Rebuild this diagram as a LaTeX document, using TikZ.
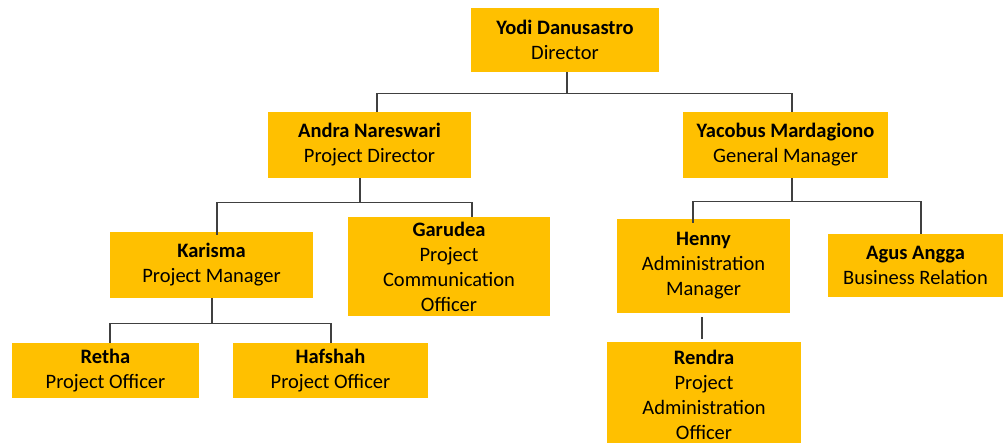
\documentclass[tikz,border=0pt]{standalone}
\usepackage{fontspec}
\setmainfont{Carlito}
\definecolor{boxgold}{HTML}{FFC000}
\definecolor{linegray}{HTML}{404040}
\begin{document}
\begin{tikzpicture}[x=1pt,y=-1pt,
  box/.style={fill=boxgold,draw=none,inner sep=0pt,align=center,text=black,
    font=\fontsize{20.5}{25}\selectfont},
  conn/.style={draw=linegray,line width=1.1pt}]
\useasboundingbox (0,0) rectangle (1003,443);
\node[box,minimum width=188pt,minimum height=64pt] (yodi) at (565,40) {\textbf{Yodi Danusastro}\\Director};
\node[box,minimum width=203pt,minimum height=66pt] (andra) at (369.5,145) {\textbf{Andra Nareswari}\\Project Director};
\node[box,minimum width=205pt,minimum height=66pt] (yacobus) at (785.5,145) {\textbf{Yacobus Mardagiono}\\General Manager};
\node[box,minimum width=203pt,minimum height=66pt] (karisma) at (211.5,265) {\textbf{Karisma}\\Project Manager};
\node[box,minimum width=202pt,minimum height=99pt] (garudea) at (449,266.5) {\textbf{Garudea}\\Project\\Communication\\Officer};
\node[box,minimum width=173pt,minimum height=94pt] (henny) at (703.5,266) {\textbf{Henny}\\Administration\\Manager};
\node[box,minimum width=175pt,minimum height=63pt] (agus) at (915.5,265.5) {\textbf{Agus Angga}\\Business Relation};
\node[box,minimum width=187pt,minimum height=55pt] (retha) at (105.5,370.5) {\textbf{Retha}\\Project Officer};
\node[box,minimum width=195pt,minimum height=55pt] (hafshah) at (330.5,370.5) {\textbf{Hafshah}\\Project Officer};
\node[box,minimum width=194pt,minimum height=105pt] (rendra) at (704,394.5) {\textbf{Rendra}\\Project\\Administration\\Officer};

% Director level
\draw[conn] ([xshift=2pt]yodi.south) -- ++(0,21) coordinate (j1);
\draw[conn] ([xshift=7.5pt]andra.north) |- (j1) -| ([xshift=6.5pt]yacobus.north);
% Project director
\draw[conn] ([xshift=-9.5pt]andra.south) -- ++(0,24) coordinate (j2);
\draw[conn] ([xshift=5.5pt,yshift=-3pt]karisma.north) |- (j2) -| ([xshift=23pt]garudea.north);
% General manager
\draw[conn] ([xshift=6.5pt]yacobus.south) -- ++(0,23) coordinate (j3);
\draw[conn] ([xshift=-10.5pt,yshift=-4pt]henny.north) |- (j3) -| ([xshift=5.5pt]agus.north);
% Project manager
\draw[conn] ([xshift=0.5pt]karisma.south) -- ++(0,25) coordinate (j4);
\draw[conn] ([xshift=4.5pt]retha.north) |- (j4) -| ([xshift=0.5pt]hafshah.north);
% Admin manager
\draw[conn,shorten <=4pt,shorten >=3pt] ([xshift=-1.5pt]henny.south) -- ([xshift=-2pt]rendra.north);
\end{tikzpicture}
\end{document}
